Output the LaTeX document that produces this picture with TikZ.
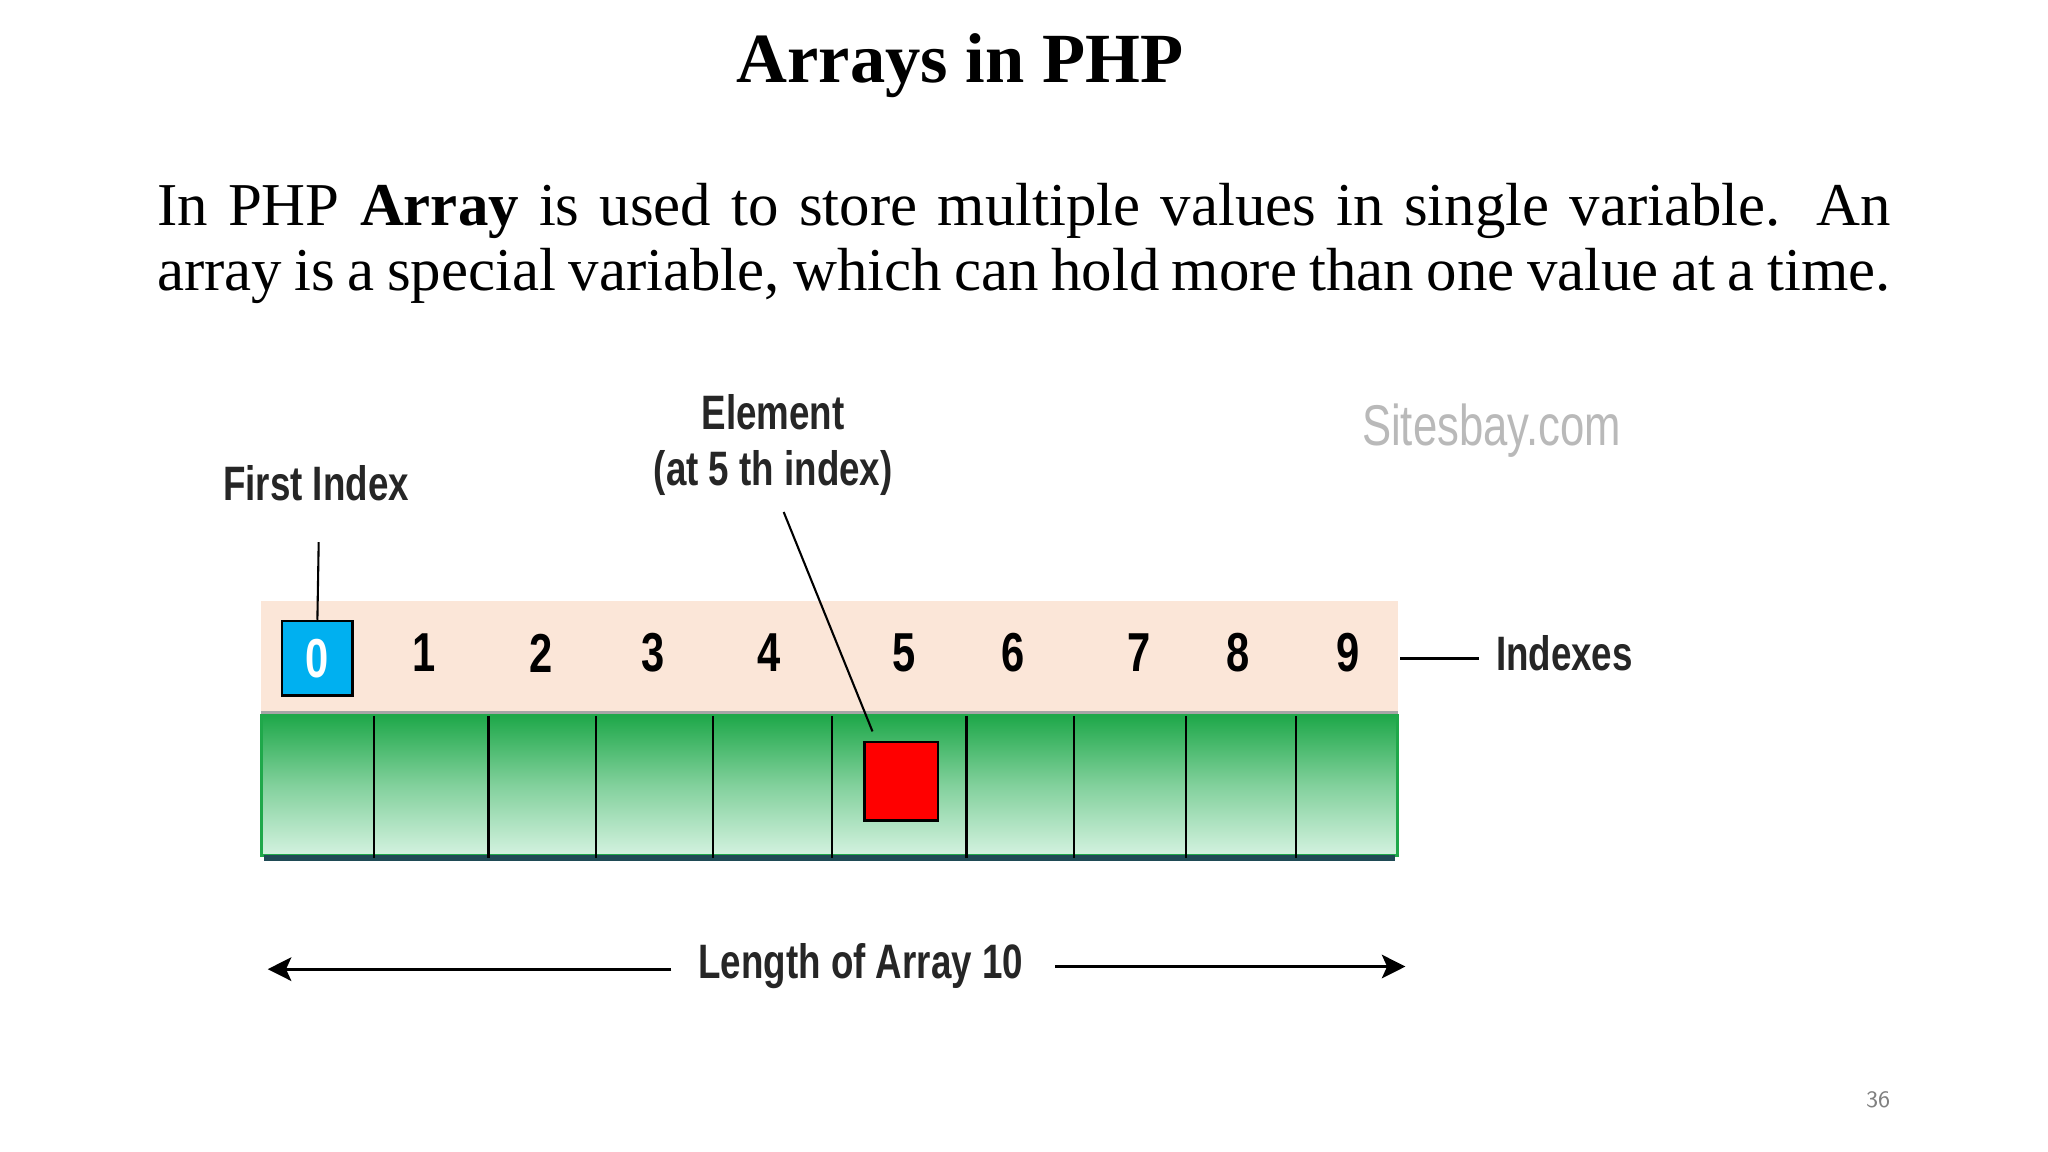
\documentclass[tikz,border=0pt]{standalone}
\usepackage{fontspec}
\setmainfont{Liberation Serif}
\newfontfamily\lab[FakeStretch=0.76]{Liberation Sans}
\usetikzlibrary{arrows.meta}
\definecolor{peach}{HTML}{FBE6D8}
\definecolor{gtop}{HTML}{1FA84A}
\definecolor{gbot}{HTML}{D4F2E0}
\definecolor{dk}{HTML}{1F4A55}
\definecolor{cy}{HTML}{00B0F0}
\tikzset{lbl/.style={font=\lab\bfseries\fontsize{18.5}{22}\selectfont, inner sep=0pt, text=black!85},
dig/.style={font=\lab\bfseries\fontsize{21}{24}\selectfont, inner sep=0pt},
div/.style={black, line width=0.8pt}}
\begin{document}
\begin{tikzpicture}[x=0.5pt,y=-0.5pt]
\useasboundingbox (0,0) rectangle (1568,882);
\fill[white] (0,0) rectangle (1568,882);
\node[font=\bfseries\fontsize{27}{32}\selectfont] (title) at (735,50) {Arrays in PHP};
\node[anchor=north west, inner sep=0pt, text width=663.5pt, align=justify, font=\fontsize{23.3}{25}\selectfont] (body) at (120,140)
{In PHP \textbf{Array} is used to store multiple values in single variable. An array is a special variable, which can hold more than one value at a time.};
% band
\fill[peach] (200,460) rectangle (1070,545);
\draw[gray!70, line width=1.5pt] (200,546) -- (1070,546);
\shade[top color=gtop, bottom color=gbot, middle color=gtop!45!gbot] (200,548) rectangle (1070,655);
\draw[gtop, line width=1pt] (200,548) rectangle (1070,655);
\draw[dk, line width=2.5pt] (202,657) -- (1068,657);
\foreach \x in {286,374,456,546,637,740,822,908,992} \draw[div] (\x,548) -- (\x,657);
\node[draw=black, fill=red, line width=1pt, minimum width=28pt, minimum height=30pt, inner sep=0pt] (el) at (690,598) {};
\node[draw=black, fill=cy, line width=1pt, minimum width=27pt, minimum height=28.5pt, inner sep=0pt, dig, text=white] (i0) at (243,504) {0};
\foreach \x/\d in {325/1,414/2,500/3,589/4,692/5,776/6,872/7,948/8,1032/9}
  \node[dig] (i\d) at (\x,500) {\d};
\node[lbl] (first) at (242,370) {First Index};
\coordinate (ft) at (244,415);
\draw[black, line width=0.8pt] (ft) -- (i0.north);
\node[lbl, align=center, font=\lab\bfseries\fontsize{18.5}{21.5}\selectfont] (elem) at (592,341) {Element\\(at 5 th index)};
\coordinate (et) at (600,392);
\coordinate (eb) at (668,560);
\draw[black, line width=0.8pt] (et) -- (eb);
\node[lbl, anchor=west] (idx) at (1145,500) {Indexes};
\coordinate (il) at (1072,504);
\draw[black, line width=1pt] (il) -- (1132,504);
\node[font=\lab\fontsize{22}{24}\selectfont, text=gray!55, inner sep=0pt] (site) at (1142,330) {Sitesbay.com};
\node[lbl] (len) at (659,740) {Length of Array 10};
\coordinate (la) at (205,742);
\coordinate (ra) at (1076,740);
\draw[black, line width=1.2pt, -{Stealth[length=9pt,width=9pt,inset=2pt]}] (514,742) -- (la);
\draw[black, line width=1.2pt, -{Stealth[length=9pt,width=9pt,inset=2pt]}] (808,740) -- (ra);
\node[font=\sffamily\fontsize{9}{10}\selectfont, text=gray] (pg) at (1438,842) {36};
\end{tikzpicture}
\end{document}
